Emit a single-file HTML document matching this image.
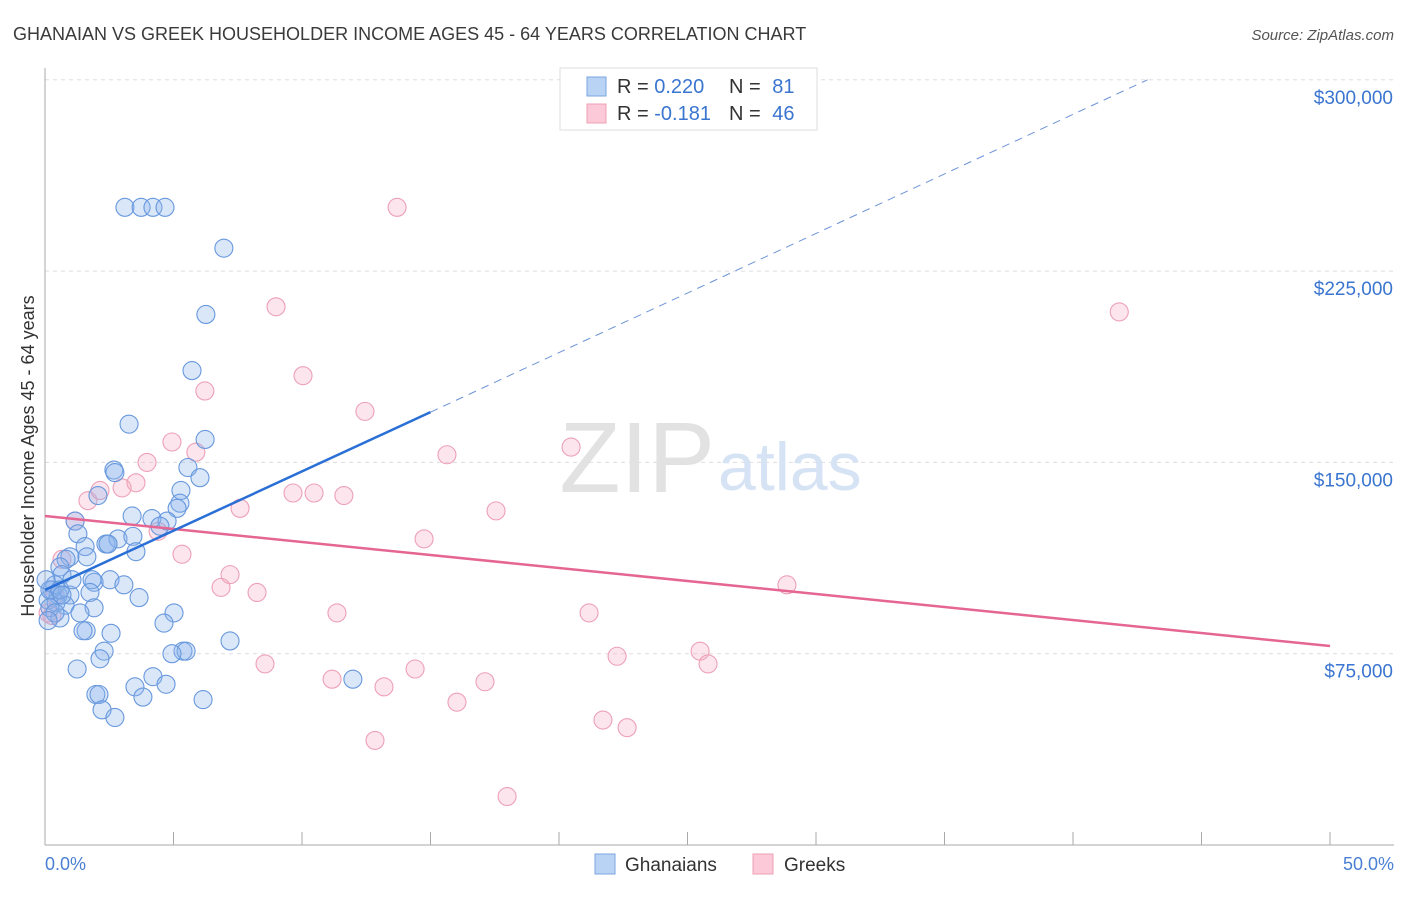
<!DOCTYPE html>
<html><head><meta charset="utf-8"><style>
body{margin:0;background:#fff;font-family:"Liberation Sans",sans-serif}
svg text{font-family:"Liberation Sans",sans-serif}
</style></head><body>
<svg width="1406" height="892">
<text x="13" y="40" font-size="18" fill="#3a3a3a">GHANAIAN VS GREEK HOUSEHOLDER INCOME AGES 45 - 64 YEARS CORRELATION CHART</text>
<text x="1394" y="40" font-size="15" fill="#555" text-anchor="end" font-style="italic">Source: ZipAtlas.com</text>
<g id="grid"></g>
<text x="715" y="492" font-size="100" fill="#e2e2e2" text-anchor="end" font-family="Liberation Serif">ZIP</text>
<text x="718" y="490" font-size="68" fill="#d6e3f5">atlas</text>
<line x1="45" y1="68" x2="45" y2="845" stroke="#aaa"/>
<line x1="45" y1="845" x2="1394" y2="845" stroke="#aaa"/>
<text x="34" y="456" font-size="18" fill="#333" text-anchor="middle" transform="rotate(-90 34 456)">Householder Income Ages 45 - 64 years</text>
<text x="45" y="870" font-size="18" fill="#4a7fd4">0.0%</text>
<text x="1394" y="870" font-size="18" fill="#4a7fd4" text-anchor="end">50.0%</text>
<g id="pts"></g>
<g id="lines"></g>
<g>
<rect x="560" y="68" width="257" height="62" fill="#fff" stroke="#ddd"/>
<rect x="587" y="77" width="19" height="19" fill="#b9d3f5" stroke="#7aa5e0"/>
<rect x="587" y="104" width="19" height="19" fill="#fbc9d7" stroke="#eea0b6"/>
<text x="617" y="93" font-size="20" fill="#333">R = <tspan fill="#3a75d0">0.220</tspan></text>
<text x="729" y="93" font-size="20" fill="#333">N = <tspan fill="#3a75d0" dx="6">81</tspan></text>
<text x="617" y="120" font-size="20" fill="#333">R = <tspan fill="#3a75d0">-0.181</tspan></text>
<text x="729" y="120" font-size="20" fill="#333">N = <tspan fill="#3a75d0" dx="6">46</tspan></text>
</g>
<g>
<rect x="595" y="854" width="20" height="20" fill="#b9d3f5" stroke="#7aa5e0"/>
<text x="625" y="871" font-size="19" fill="#333">Ghanaians</text>
<rect x="753" y="854" width="20" height="20" fill="#fbc9d7" stroke="#eea0b6"/>
<text x="784" y="871" font-size="19" fill="#333">Greeks</text>
</g>
</svg>
<script>
const yTicks=[75,150,225,300];
const yTickLabels=["$75,000","$150,000","$225,000","$300,000"];
const xTicks=[0,5,10,15,20,25,30,35,40,45,50];
const ghX=[3.11,3.74,4.20,4.67,6.96,6.26,5.72,3.27,6.23,2.68,2.72,5.56,6.03,5.29,2.06,5.25,5.14,3.39,4.16,4.75,4.47,1.17,1.28,1.56,2.37,2.84,3.42,2.45,0.97,0.82,1.63,3.54,0.58,0.66,1.91,1.83,2.53,3.07,0.39,0.27,0.97,0.51,0.12,1.75,3.66,0.43,0.78,1.91,1.36,0.19,5.02,4.63,1.60,1.48,2.57,0.58,0.39,2.30,2.14,5.37,5.49,4.94,1.25,7.20,4.20,4.71,3.50,1.98,2.10,3.81,6.15,2.22,2.72,11.98,0.19,0.58,0.04,0.12,1.05,0.66,2.45];
const ghY=[250,250,250,250,234,208,186,165,159,147,146,148,144,139,137,134,132,129,128,127,125,127,122,117,118,120,121,118,113,112,113,115,109,106,103,104,104,102,102,100,98,98,96,99,97,95,94,93,91,93,91,87,84,84,83,89,91,76,73,76,76,75,69,80,66,63,62,59,59,58,57,53,50,65,100,100,104,88,104,98,118];
const grX=[13.7,41.8,8.99,10.04,6.22,12.45,4.94,15.64,20.47,5.87,3.97,3.54,2.14,1.67,3.00,9.65,10.47,11.63,7.59,17.55,1.17,14.75,4.40,5.33,7.20,6.85,8.25,28.87,11.36,21.17,22.26,25.49,25.80,8.56,11.17,13.19,14.40,17.12,16.03,21.71,22.65,12.84,17.98,0.66,0.39,0.27,0.12];
const grY=[250,209,211,184,178,170,158,153,156,154,150,142,139,135,140,138,138,137,132,131,127,120,123,114,106,101,99,102,91,91,74,76,71,71,65,62,69,64,56,49,46,41,19,112,98,90,91];
const blueTrend=[[0,100],[15,169.7]];
const blueDash=[[15,169.7],[42.9,300]];
const pinkTrend=[[0,129],[50,78]];
const NS="http://www.w3.org/2000/svg";
const X=p=>45+p*25.7, Y=v=>845-v*191.3/75;
function mk(t,a,parent){const e=document.createElementNS(NS,t);for(const k in a)e.setAttribute(k,a[k]);document.getElementById(parent).appendChild(e);return e;}
yTicks.forEach((v,i)=>{
 const l=mk('line',{x1:45,x2:1394,y1:Y(v),y2:Y(v),stroke:'#ddd','stroke-dasharray':'4 4'},'grid');
 
 
 const t=mk('text',{x:1393,y:Y(v)+24,'font-size':19,fill:'#3a75d0','text-anchor':'end'},'grid');
 t.textContent=yTickLabels[i];
 
 
});
xTicks.forEach(p=>{
 const l=mk('line',{x1:X(p),x2:X(p),y1:832,y2:845,stroke:'#aaa'},'grid');
 
 
});
grX.forEach((p,i)=>{
 const c=mk('circle',{cx:X(p),cy:Y(grY[i]),r:9,fill:'rgba(245,170,192,0.3)',stroke:'#eda0b7','stroke-width':1.1},'pts');
 
 
});
ghX.forEach((p,i)=>{
 const c=mk('circle',{cx:X(p),cy:Y(ghY[i]),r:9,fill:'rgba(140,180,235,0.32)',stroke:'#6898dd','stroke-width':1.1},'pts');
 
 
});
function ln(d,attrs,name){const l=mk('line',Object.assign({x1:X(d[0][0]),y1:Y(d[0][1]),x2:X(d[1][0]),y2:Y(d[1][1])},attrs),'lines');
 
 }
ln(pinkTrend,{stroke:'#e56593','stroke-width':2.5},'greek-trend-line');
ln(blueTrend,{stroke:'#2a6fd6','stroke-width':2.5},'ghanaian-trend-line');
ln(blueDash,{stroke:'#6d93d6','stroke-width':1,'stroke-dasharray':'8 6'},'ghanaian-trend-extension');
</script>
</body></html>
